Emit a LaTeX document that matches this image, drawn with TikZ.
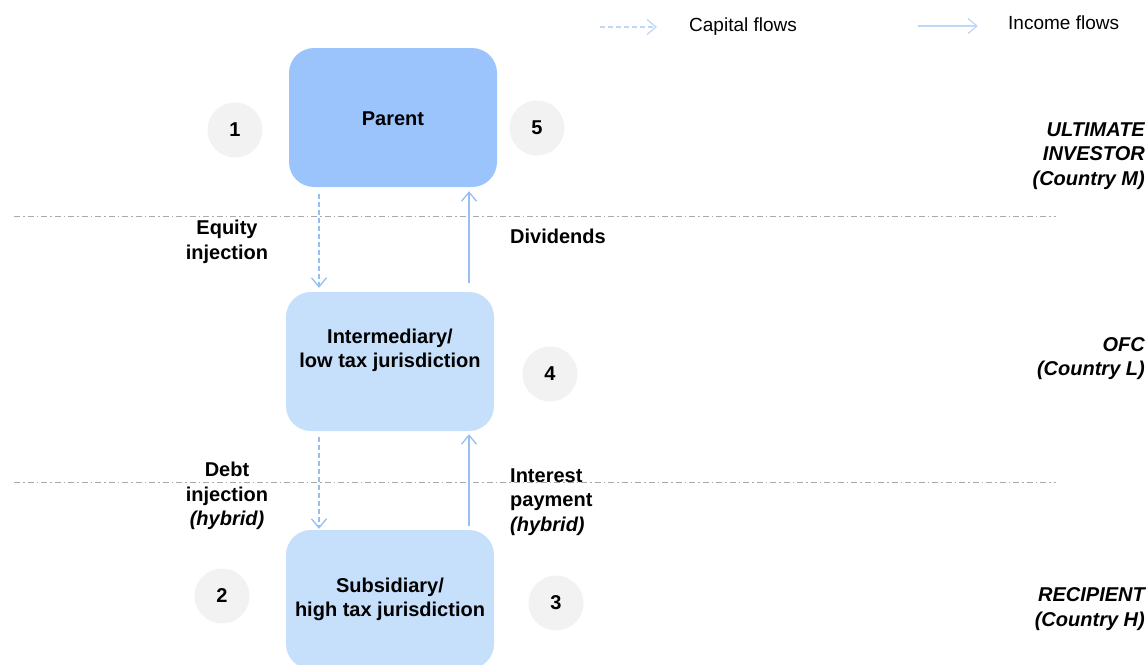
\documentclass[tikz,border=0pt]{standalone}
\usepackage{fontspec}
\setmainfont{Liberation Sans}
\usetikzlibrary{arrows.meta}
\definecolor{parentblue}{RGB}{155,196,253}
\definecolor{lightblue}{RGB}{198,223,250}
\definecolor{flowblue}{RGB}{150,190,240}
\definecolor{numgray}{RGB}{242,242,242}
\definecolor{linegray}{RGB}{170,170,170}
\begin{document}
\begin{tikzpicture}[x=1pt,y=-1pt]
\tikzstyle{every node}+=[inner sep=0pt,font=\fontsize{20}{24.5}\selectfont\bfseries]
\tikzstyle{entity}=[rectangle,rounded corners=25pt,minimum width=208pt,minimum height=139pt,align=center]
\tikzstyle{number}=[circle,fill=numgray,minimum size=55pt]
\tikzstyle{capital}=[flowblue,line width=1.3pt,dash pattern=on 5pt off 3pt,-{Straight Barb[length=9pt,width=15pt]}]
\tikzstyle{income}=[flowblue,line width=1.3pt,-{Straight Barb[length=9pt,width=15pt]}]
\tikzstyle{border}=[linegray,line width=1pt,dash pattern=on 6pt off 3pt on 1.5pt off 3pt]
\tikzstyle{region}=[anchor=east,align=right,font=\fontsize{20}{24.5}\selectfont\bfseries\itshape]
\tikzstyle{legend}=[anchor=west,font=\fontsize{19}{23}\selectfont\mdseries]
\useasboundingbox (0,0) rectangle (1147,664);
\clip (0,0) rectangle (1147,664);
\coordinate (capA) at (600,27);
\coordinate (capB) at (657,27);
\draw [capital,flowblue!60] (capA) -- (capB);
\node [legend] (captext) at (689,27) {Capital flows};
\coordinate (incA) at (918,26);
\coordinate (incB) at (978,26);
\draw [income,flowblue!60] (incA) -- (incB);
\node [legend] (inctext) at (1008,23) {Income flows};
\coordinate (topL) at (14,216);
\coordinate (topR) at (1056,216);
\draw [border] (topL) -- (topR);
\coordinate (lowL) at (14,482);
\coordinate (lowR) at (1056,482);
\draw [border] (lowL) -- (lowR);
\node [entity,fill=parentblue] (parent) at (393,117.5) {};
\node (parenttext) at ([yshift=-1.5pt]parent.center) {Parent};
\node [entity,fill=lightblue] (inter) at (390,361.5) {};
\node [align=center] (intertext) at ([yshift=11pt]inter.center) {Intermediary/\\low tax jurisdiction};
\node [entity,fill=lightblue] (sub) at (390,599.5) {Subsidiary/\\high tax jurisdiction};
\node [number] (n1) at (235,130) {1};
\node [number] (n5) at (537,128) {5};
\node [number] (n4) at (550,374) {4};
\node [number] (n2) at (222,596) {2};
\node [number] (n3) at (556,603) {3};
\draw [capital] ([shift={(-74,7)}]parent.south) -- ([shift={(-71,-4)}]inter.north);
\draw [income] ([shift={(79,-9)}]inter.north) -- ([shift={(76,4)}]parent.south);
\draw [capital] ([shift={(-71,6)}]inter.south) -- ([shift={(-71,-1)}]sub.north);
\draw [income] ([shift={(79,-4)}]sub.north) -- ([shift={(79,3)}]inter.south);
\node [align=center] (equity) at (227,242) {Equity\\injection};
\node [anchor=west] (dividends) at (510,236) {Dividends};
\node [align=center] (debt) at (227,496) {Debt\\injection\\\textit{(hybrid)}};
\node [anchor=west,align=left] (interest) at (510,502) {Interest\\payment\\\textit{(hybrid)}};
\node [region] (investor) at (1145,156) {ULTIMATE\\INVESTOR\\(Country M)};
\node [region] (ofc) at (1145,358.5) {OFC\\(Country L)};
\node [region] (recipient) at (1145,609) {RECIPIENT\\(Country H)};
\end{tikzpicture}
\end{document}
